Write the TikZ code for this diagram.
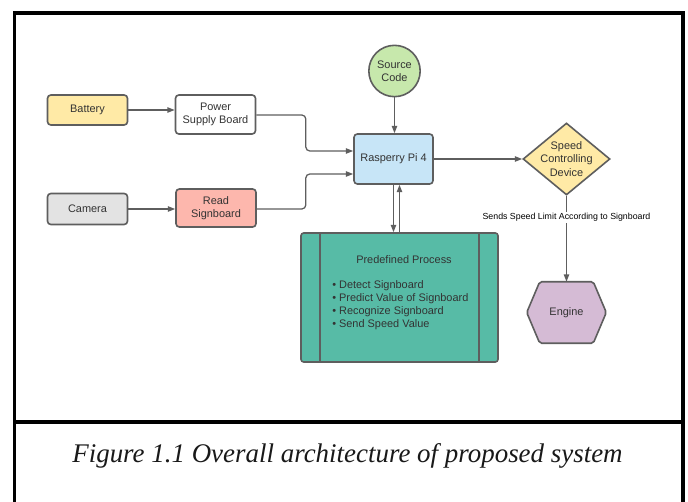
\documentclass[tikz,border=0pt]{standalone}
\usepackage{fontspec}
\setmainfont{Liberation Sans}
\newfontfamily\capfont{Liberation Serif}
\usetikzlibrary{arrows.meta,shapes.geometric,calc}
\definecolor{linegray}{HTML}{5E5E5E}
\definecolor{textgray}{HTML}{333333}
\definecolor{batyellow}{HTML}{FFEAA6}
\definecolor{camgray}{HTML}{E3E3E3}
\definecolor{readpink}{HTML}{FDB7AD}
\definecolor{piblue}{HTML}{C7E5F7}
\definecolor{srcgreen}{HTML}{C7E8AC}
\definecolor{procgreen}{HTML}{57BBA6}
\definecolor{engpurple}{HTML}{D5BBD5}
\tikzset{
  lbltxt/.style={text=textgray, font=\fontsize{8.2pt}{9.9pt}\selectfont, align=center, inner sep=0pt},
  box/.style={lbltxt, draw=linegray, line width=1.2pt, rounded corners=2.5pt},
  arr/.style={draw=linegray, line width=0.95pt, rounded corners=3pt, -{Triangle[length=5.5pt,width=4pt]}},
  frameline/.style={line width=2.3pt, black},
}
\begin{document}
\begin{tikzpicture}[x=0.75pt,y=-0.75pt]
\useasboundingbox (0,0) rectangle (688,502);
\fill[white] (0,0) rectangle (688,502);
% frame
\draw[frameline] (14.5,502) -- (14.5,13) -- (683,13) -- (683,502);
\draw[frameline] (14.5,422) -- (683,422);
% nodes
\node[box, fill=batyellow, minimum width=60pt, minimum height=22.5pt] (bat) at (87.5,110) {Battery};
\node[box, fill=white, minimum width=60pt, minimum height=29.25pt] (psb) at (215.5,114.5) {Power\\Supply Board};
\node[box, fill=camgray, minimum width=60pt, minimum height=23.25pt] (cam) at (87.5,209) {Camera};
\node[box, fill=readpink, minimum width=60pt, minimum height=28.5pt] (rs) at (216,208) {Read\\Signboard};
\node[box, fill=piblue, minimum width=59.25pt, minimum height=37.5pt] (pi) at (393.5,159) {Rasperry Pi 4};
\node[box, circle, fill=srcgreen, minimum size=38.5pt] (src) at (394.5,71) {Source\\Code};
% predefined process
\node[box, rounded corners=2pt, fill=procgreen, minimum width=147.75pt, minimum height=96.75pt] (proc) at (399.5,297.5) {};
\draw[draw=linegray, line width=1.2pt] ($(proc.north west)+(20,0)$) -- ($(proc.south west)+(20,0)$);
\draw[draw=linegray, line width=1.2pt] ($(proc.north east)+(-20,0)$) -- ($(proc.south east)+(-20,0)$);
\node[lbltxt] (ptitle) at (404,260) {Predefined Process};
\node[lbltxt, align=left, anchor=west] (plist) at (332,305) {\textbullet\ Detect Signboard\\\textbullet\ Predict Value of Signboard\\\textbullet\ Recognize Signboard\\\textbullet\ Send Speed Value};
% speed controlling device
\node[draw=linegray, line width=1.2pt, diamond, fill=batyellow, minimum width=65.25pt, minimum height=54pt, inner sep=0pt] (scd) at (566.5,159) {};
\node[lbltxt, font=\fontsize{8.2pt}{10.1pt}\selectfont] (scdtxt) at (scd) {Speed\\Controlling\\Device};
% engine
\node[lbltxt, minimum width=59.25pt, minimum height=45.75pt] (eng) at (566.5,312.5) {};
\filldraw[draw=linegray, line width=1.2pt, fill=engpurple, rounded corners=1.5pt]
  (eng.west) -- ($(eng.north west)+(13,0)$) -- ($(eng.north east)+(-13,0)$) -- (eng.east)
  -- ($(eng.south east)+(-13,0)$) -- ($(eng.south west)+(13,0)$) -- cycle;
\node[lbltxt] (engtxt) at (eng) {Engine};
% connectors
\draw[arr] (bat.east) -- (bat.east -| psb.west);
\draw[arr] (cam.east) -- (cam.east -| rs.west);
\draw[arr] ($(psb.east)+(0,0.5)$) -- ++(49.5,0) |- ($(pi.west)+(0,-8)$);
\draw[arr] ($(rs.east)+(0,1)$) -- ++(49,0) |- ($(pi.west)+(0,15)$);
\draw[arr] (src.south) -- (src.south |- pi.north);
\draw[arr] (pi.south) -- (pi.south |- proc.north);
\draw[arr] (proc.north) -- (proc.north |- pi.south);
\draw[arr] (pi.east) -- (scd.west);
\draw[arr] (scd.south) -- node[pos=0.253, fill=white, text=black, inner sep=1pt, font=\fontsize{6.6pt}{8pt}\selectfont] (lbl) {Sends Speed Limit According to Signboard} (eng.north);
% caption
\node[anchor=base, inner sep=0pt, text=black!90, font=\capfont\itshape\fontsize{20.2pt}{24pt}\selectfont] (cap) at (347.5,462) {Figure 1.1 Overall architecture of proposed system};
\end{tikzpicture}
\end{document}
